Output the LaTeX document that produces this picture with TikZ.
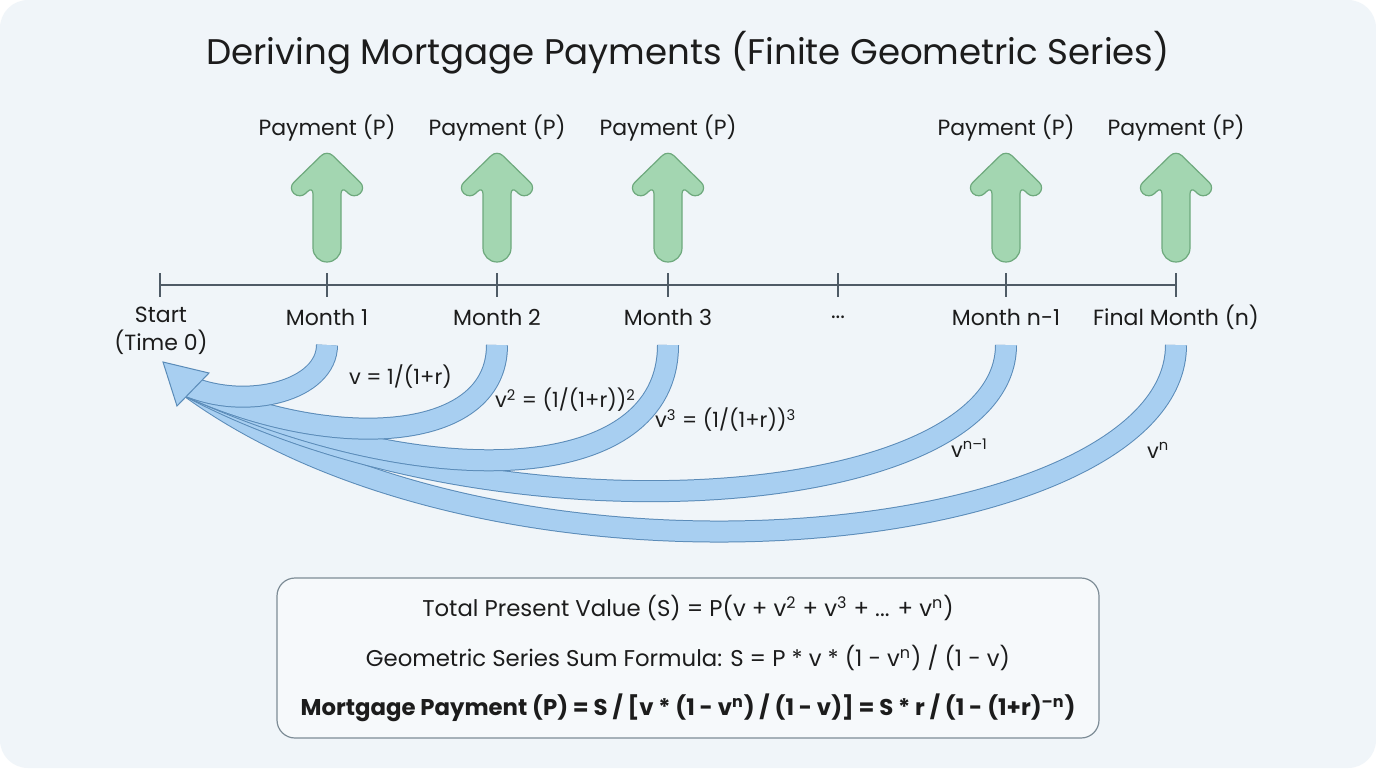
\documentclass[tikz,border=0pt]{standalone}
\usepackage{fontspec}
\setmainfont{Poppins}

\definecolor{bgblue}{HTML}{F0F5F9}
\definecolor{axisgray}{HTML}{4F5B66}
\definecolor{paygreen}{HTML}{A3D6B1}
\definecolor{payedge}{HTML}{6EA97D}
\definecolor{bandblue}{HTML}{A8CFF1}
\definecolor{bandedge}{HTML}{5A8BB8}
\definecolor{boxedge}{HTML}{7D8C96}
\definecolor{textdark}{HTML}{1C1C1C}

\begin{document}
\begin{tikzpicture}[x=0.5pt,y=-0.5pt,
		labeltext/.style={font=\fontsize{11}{14}\selectfont, text=textdark, align=center},
		vtext/.style={font=\fontsize{10.5}{13}\selectfont, text=textdark},
		boxtext/.style={font=\fontsize{11.4}{13}\selectfont, text=textdark},
		payarrow/.style={fill=paygreen, draw=payedge, line width=0.6pt, rounded corners=4pt},
		band/.style={draw=bandedge, double=bandblue, line width=0.5pt, double distance=10pt},
		axis/.style={draw=axisgray, line width=0.9pt}]
		\useasboundingbox (0,0) rectangle (1376,768);
		\fill [white] (0,0) rectangle (1376,768);
		\fill [bgblue, rounded corners=14pt] (0,0) rectangle (1376,768);
		
		\node [font=\fontsize{17.8}{22}\selectfont, text=textdark] (title) at (688,53) {Deriving Mortgage Payments (Finite Geometric Series)};
		
		% time line
		\draw [axis] (160,285) -- (1176,285);
		\foreach \x in {160,327,497,668,838,1006,1176}
			\draw [axis] (\x,273) -- (\x,297);
		
		% payments
		\foreach \x in {327,497,668,1006,1176}
			\draw [payarrow] (\x,150) -- (\x+39,188) -- (\x+27,199) -- (\x+14,186) [rounded corners=7pt] -- (\x+14,262) -- (\x-14,262) [rounded corners=4pt] -- (\x-14,186) -- (\x-27,199) -- (\x-39,188) -- cycle;
		
		\node [labeltext] (pay1) at (327,128) {Payment (P)};
		\node [labeltext] (pay2) at (497,128) {Payment (P)};
		\node [labeltext] (pay3) at (668,128) {Payment (P)};
		\node [labeltext] (payn1) at (1006,128) {Payment (P)};
		\node [labeltext] (payn) at (1176,128) {Payment (P)};
		
		\node [labeltext] (m0) at (161,331) {Start\\(Time 0)};
		\node [labeltext] (m1) at (327,317) {Month 1};
		\node [labeltext] (m2) at (497,317) {Month 2};
		\node [labeltext] (m3) at (668,317) {Month 3};
		\node [labeltext] (mdots) at (838,317) {...};
		\node [labeltext] (mn1) at (1006,317) {Month n-1};
		\node [labeltext] (mn) at (1176,317) {Final Month (n)};
		
		% discounting back to time 0
		\coordinate (t0) at (188,386);
		\coordinate (b1) at (327,345);
		\coordinate (b2) at (497,345);
		\coordinate (b3) at (668,345);
		\coordinate (bn1) at (1006,345);
		\coordinate (bn) at (1176,345);
		
		\draw [band] (bn) .. controls +(0,200) and +(320,235) .. (t0);
		\draw [band] (bn1) .. controls +(0,165) and +(310,165) .. (t0);
		\draw [band] (b3) .. controls +(0,140) and +(240,110) .. (t0);
		\draw [band] (b2) .. controls +(0,100) and +(140,65) .. (t0);
		\draw [band] (b1) .. controls +(0,45) and +(60,25) .. (t0);
		\fill [bandblue, draw=bandedge, line width=0.5pt] (163,362) -- (209,373) -- (177,406) -- cycle;
		
		\node [vtext, anchor=west] (v1) at (342,377) {v = 1/(1+r)};
		\node [vtext, anchor=west] (v2) at (488,400) {v\textsuperscript{2} = (1/(1+r))\textsuperscript{2}};
		\node [vtext, anchor=west] (v3) at (648,420) {v\textsuperscript{3} = (1/(1+r))\textsuperscript{3}};
		\node [vtext, anchor=west] (vn1) at (944,448) {v\textsuperscript{n–1}};
		\node [vtext, anchor=west] (vn) at (1140,450) {v\textsuperscript{n}};
		
		% summary box
		\node [draw=boxedge, line width=0.6pt, rounded corners=9pt, fill=bgblue!60!white, minimum width=411pt, minimum height=80pt] (summary) at (688,658) {};
		\node [boxtext] (sum1) at (688,608) {Total Present Value (S) = P(v + v\textsuperscript{2} + v\textsuperscript{3} + ... + v\textsuperscript{n})};
		\node [boxtext] (sum2) at (688,658) {Geometric Series Sum Formula: S = P * v * (1 - v\textsuperscript{n}) / (1 - v)};
		\node [boxtext, font=\fontsize{11.4}{13}\selectfont\bfseries] (sum3) at (688,708) {Mortgage Payment (P) = S / [v * (1 - v\textsuperscript{n}) / (1 - v)] = S * r / (1 - (1+r)\textsuperscript{–n})};
	\end{tikzpicture}
\end{document}
